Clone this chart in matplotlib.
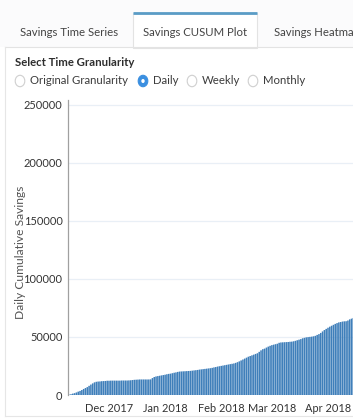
import matplotlib
matplotlib.use("Agg")
import matplotlib.pyplot as plt
import matplotlib.dates as mdates
from matplotlib.patches import Rectangle, Circle
from matplotlib.lines import Line2D
import pandas as pd

# ---- data -------------------------------------------------------------
start_date = "2017-11-08"
# daily cumulative savings, one row per week
cumulative_savings = [
    0, 300, 700, 1200, 1600, 2200, 2900,
    3500, 4300, 5200, 6000, 6800, 7900, 9000,
    10000, 10900, 11400, 11600, 11700, 11900, 12000,
    12100, 12300, 12300, 12400, 12400, 12400, 12400,
    12400, 12400, 12500, 12500, 12500, 12500, 12600,
    12700, 12900, 13100, 13200, 13300, 13400, 13400,
    13400, 13400, 13400, 13400, 13500, 14600, 15500,
    16000, 16300, 16600, 16900, 17200, 17500, 17900,
    18200, 18400, 18800, 19200, 19500, 19900, 20200,
    20300, 20400, 20500, 20600, 20700, 20800, 21000,
    21200, 21400, 21600, 21900, 22100, 22300, 22500,
    22700, 22900, 23100, 23400, 23800, 24100, 24500,
    24800, 25100, 25400, 25700, 26000, 26300, 26600,
    26900, 27200, 27700, 28300, 29000, 29800, 30600,
    31400, 32200, 33000, 33600, 34200, 34800, 35400,
    36000, 37200, 38500, 39500, 40000, 40900, 41700,
    42400, 43000, 43400, 43800, 44200, 45000, 45300,
    45400, 45500, 45600, 45700, 45900, 46000, 46300,
    46700, 47200, 47700, 48200, 48900, 49300, 49700,
    49900, 50100, 50300, 50600, 51000, 51800, 52500,
    53500, 54800, 56000, 57000, 58000, 58900, 59700,
    60500, 61300, 62000, 62600, 62900, 63300, 63500,
    63600, 64200, 65200, 65800, 66400,
]
y_ticks = [0, 50000, 100000, 150000, 200000, 250000]
month_ticks = ["2017-12-01", "2018-01-01", "2018-02-01", "2018-03-01", "2018-04-01"]
tab_labels = ["Savings Time Series", "Savings CUSUM Plot", "Savings Heatmap"]
granularity_options = ["Original Granularity", "Daily", "Weekly", "Monthly"]
selected_option = "Daily"

dates = pd.date_range(start_date, periods=len(cumulative_savings), freq="D")

# ---- figure -----------------------------------------------------------
W, H = 353, 420
fig = plt.figure(figsize=(W / 100, H / 100), dpi=100)
fig.patch.set_facecolor("white")
FONT = ["Lato", "DejaVu Sans"]


def fx(px):
    return px / W


def fy(py):
    return 1 - py / H


def pt(px):
    return px * 72 / 100


# tab strip
fig.add_artist(Rectangle((0, fy(47)), 1, fy(0) - fy(47), transform=fig.transFigure,
                         facecolor="#fbfbfc", edgecolor="none"))
fig.add_artist(Line2D([fx(5), 1], [fy(47), fy(47)], transform=fig.transFigure,
                      color="#e3e3e3", lw=0.8))
# active tab
fig.add_artist(Rectangle((fx(133), fy(48)), fx(257) - fx(133), fy(13) - fy(48),
                         transform=fig.transFigure, facecolor="white",
                         edgecolor="#e3e3e3", lw=0.8))
fig.add_artist(Line2D([fx(133), fx(257)], [fy(13), fy(13)], transform=fig.transFigure,
                      color="#5a9cc6", lw=2.0, solid_capstyle="butt"))
tab_x = [69, 195, 274]
tab_ha = ["center", "center", "left"]
for lbl, x, ha in zip(tab_labels, tab_x, tab_ha):
    fig.text(fx(x), fy(32), lbl, ha=ha, va="center", fontsize=pt(11.4),
             color="#444444", family=FONT)

# page border
fig.add_artist(Line2D([fx(5), fx(5)], [fy(47), fy(416)], transform=fig.transFigure,
                      color="#e6e6e6", lw=0.8))
fig.add_artist(Line2D([fx(5), 1], [fy(416), fy(416)], transform=fig.transFigure,
                      color="#e6e6e6", lw=0.8))

# granularity selector
fig.text(fx(15), fy(62), "Select Time Granularity", ha="left", va="center",
         fontsize=pt(11.4), fontweight="bold", color="#2e2e2e", family=FONT)
radio_x = [20, 143, 192, 253]
for opt, x in zip(granularity_options, radio_x):
    if opt == selected_option:
        fig.add_artist(Circle((fx(x), fy(81)), 4.8 / W, transform=fig.transFigure,
                              facecolor="#3b8fe0", edgecolor="#3b8fe0", lw=0.8))
        fig.add_artist(Circle((fx(x), fy(81)), 1.7 / W, transform=fig.transFigure,
                              facecolor="white", edgecolor="none"))
    else:
        fig.add_artist(Circle((fx(x), fy(81)), 4.8 / W, transform=fig.transFigure,
                              facecolor="white", edgecolor="#cfcfcf", lw=0.8))
    fig.text(fx(x + 10), fy(81), opt, ha="left", va="center", fontsize=pt(11.4),
             color="#3c3c3c", family=FONT)

# ---- chart ------------------------------------------------------------
px_per_day = 1.81
ax_left, ax_right, ax_top, ax_bottom = 68, 353, 100, 395
ax = fig.add_axes([fx(ax_left), fy(ax_bottom), fx(ax_right - ax_left),
                   fy(ax_top) - fy(ax_bottom)])
ax.set_facecolor("white")

bars = ax.bar(dates, cumulative_savings, width=0.86, color="#3f7fba",
              edgecolor="none", align="center")
for b in bars:
    b.set_snap(False)

dec1 = pd.Timestamp(month_ticks[0])
x0 = dec1 - pd.Timedelta(days=(109 - ax_left) / px_per_day)
x1 = dec1 + pd.Timedelta(days=(ax_right - 109) / px_per_day)
ax.set_xlim(x0, x1)
ax.set_ylim(0, 254300)

ax.set_yticks(y_ticks)
ax.set_yticklabels([str(v) for v in y_ticks])
ax.set_xticks([pd.Timestamp(d) for d in month_ticks])
ax.xaxis.set_major_formatter(mdates.DateFormatter("%b %Y"))

ax.grid(axis="y", color="#e9eff6", lw=0.9)
ax.set_axisbelow(True)
for s in ["top", "right", "bottom"]:
    ax.spines[s].set_visible(False)
ax.spines["left"].set_color("#a0a0a0")
ax.spines["left"].set_linewidth(0.9)
ax.tick_params(axis="both", length=0, labelsize=pt(11), labelcolor="#333333")
ax.tick_params(axis="y", pad=4)
ax.tick_params(axis="x", pad=6)
for lab in ax.get_xticklabels() + ax.get_yticklabels():
    lab.set_family(FONT)

fig.text(fx(21), fy(252), "Daily Cumulative Savings", rotation=90, ha="center",
         va="center", fontsize=pt(12), color="#555555", family=FONT)

fig.savefig("out.png", dpi=100, facecolor="white")
